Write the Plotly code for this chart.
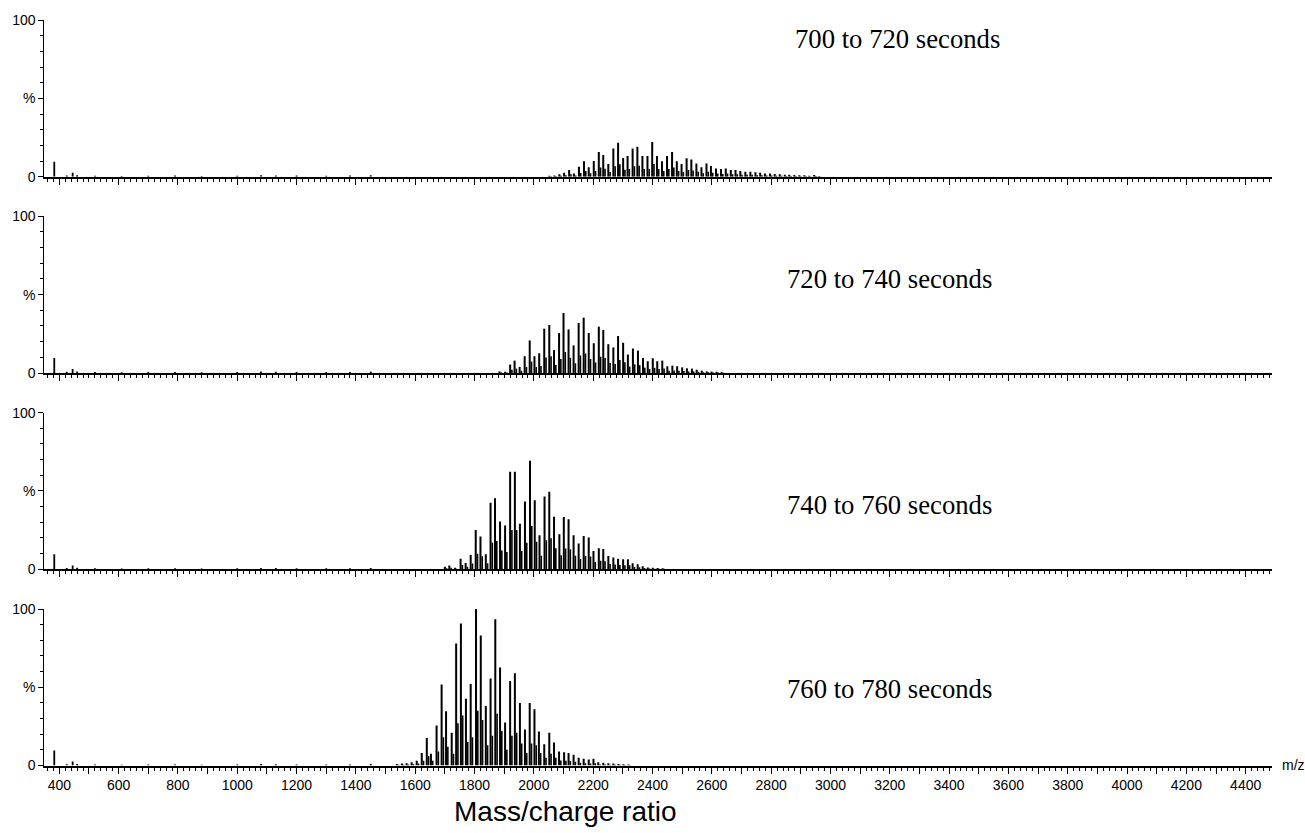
import plotly.graph_objects as go

# ---------------- data ----------------
PANEL_LABELS = ["700 to 720 seconds", "720 to 740 seconds",
                "740 to 760 seconds", "760 to 780 seconds"]

# low-mass peaks common to every spectrum
LOW_MZ = [383, 425, 445, 460, 520, 610, 700, 790, 880, 1000, 1080, 1130, 1200, 1300, 1380, 1450]
LOW_H = [9.6, 0.8, 2.5, 1.0, 0.6, 0.5, 0.6, 0.7, 0.5, 0.6, 0.9, 0.8, 0.7, 0.6, 0.7, 0.9]

MZ_P1 = [2052, 2069, 2086, 2102, 2119, 2135, 2152, 2169, 2185, 2202, 2219, 2234, 2251, 2268,
         2284, 2301, 2316, 2333, 2349, 2366, 2383, 2399, 2415, 2432, 2449, 2466, 2482, 2498,
         2515, 2531, 2548, 2565, 2582, 2597, 2614, 2631, 2647, 2664, 2680, 2696, 2713, 2730,
         2747, 2763, 2779, 2796, 2812, 2829, 2846, 2861, 2878, 2895, 2912, 2928, 2945, 2961]
H_P1 = [0.6, 0.8, 1.5, 2.6, 4.3, 2.1, 6.4, 9.8, 6, 10, 15.7, 13.8, 8.1, 18, 21.7, 11.9, 13.2,
        18, 19.1, 13.2, 13.2, 22.1, 13.2, 9.8, 13.2, 15.7, 9.8, 8.1, 11.7, 11, 8.5, 6, 8.5,
        6.8, 5.3, 4.9, 5.3, 4.3, 4.3, 3.6, 3.2, 3.2, 2.8, 2.6, 2.1, 2.1, 1.7, 1.5, 1.3, 1.3,
        1.1, 0.9, 0.9, 0.6, 1.1, 0.4]
SAT_P1 = [0.3, 0.4, 0.6, 1, 1.6, 0.8, 2.4, 3.6, 2.2, 3.7, 5.8, 5.1, 3, 6.6, 8, 4.4, 4.9, 6.6,
          7, 4.9, 4.9, 8.1, 4.9, 3.6, 4.9, 5.8, 3.6, 3, 4.3, 4, 3.1, 2.2, 3.1, 2.5, 2, 1.8, 2,
          1.6, 1.6, 1.3, 1.2, 1.2, 1, 1, 0.8, 0.8, 0.6, 0.6, 0.5, 0.5, 0.4, 0.3, 0.3, 0.2,
          0.4, 0.2]

MZ_P2 = [1884, 1903, 1920, 1935, 1952, 1969, 1986, 2002, 2018, 2035, 2052, 2068, 2085, 2100,
         2117, 2134, 2151, 2168, 2185, 2202, 2219, 2234, 2251, 2268, 2284, 2301, 2317, 2334,
         2351, 2368, 2384, 2401, 2416, 2433, 2450, 2467, 2483, 2500, 2516, 2533, 2549, 2566,
         2583, 2599, 2616, 2633]
H_P2 = [1, 0.8, 5.4, 7.9, 3.9, 10.7, 20.8, 10.7, 12.6, 28.3, 30.6, 14.6, 25.5, 38.3, 27.8,
        17.6, 31.9, 35.3, 25.5, 19, 29.6, 27.4, 18.4, 16.3, 23.6, 19.3, 11.8, 15.6, 14.3, 9.6,
        7.5, 9.4, 7.5, 7.9, 4.3, 4.7, 4.3, 3.6, 3, 2.8, 2.1, 1.5, 1, 0.9, 0.8, 0.6]
SAT_P2 = [0.4, 0.3, 2, 2.8, 1.4, 3.8, 7.3, 3.8, 4.4, 9.9, 10.7, 5.1, 8.9, 13.4, 9.7, 6.2, 11.2,
          12.4, 8.9, 6.7, 10.4, 9.6, 6.4, 5.7, 8.3, 6.8, 4.1, 5.5, 5, 3.4, 2.6, 3.3, 2.6, 2.8,
          1.5, 1.6, 1.5, 1.3, 1, 1, 0.7, 0.5, 0.4, 0.3, 0.3, 0.2]

MZ_P3 = [1700, 1715, 1734, 1753, 1770, 1787, 1804, 1820, 1838, 1854, 1869, 1886, 1903, 1920,
         1936, 1953, 1970, 1987, 2003, 2019, 2036, 2052, 2068, 2086, 2101, 2117, 2134, 2151,
         2168, 2185, 2201, 2219, 2234, 2251, 2268, 2284, 2301, 2317, 2333, 2350, 2367, 2384,
         2401, 2417, 2434]
H_P3 = [1.7, 2.5, 1, 6.8, 4, 9.2, 25, 21, 9.6, 42.4, 45.4, 30.5, 28, 62.3, 62.3, 29, 43.3,
        69.3, 44, 21.7, 46.5, 49.5, 33.5, 22.4, 33.3, 32, 21.7, 16.4, 21.3, 20.3, 11.7, 13.4,
        13, 8.5, 7.5, 6.8, 6.4, 6.4, 3.8, 3.2, 1.9, 1.2, 1, 0.8, 0.7]
SAT_P3 = [0.7, 1, 0.4, 2.7, 1.6, 3.7, 10, 8.4, 3.8, 17, 18, 12, 11, 25, 25, 11.6, 17, 27.7,
          17.6, 8.7, 18.6, 19.8, 13.4, 9, 13.3, 12.8, 8.7, 6.6, 8.5, 8.1, 4.7, 5.4, 5.2, 3.4,
          3, 2.7, 2.6, 2.6, 1.5, 1.3, 0.8, 0.5, 0.4, 0.3, 0.3]

MZ_P4 = [1538, 1555, 1571, 1588, 1605, 1622, 1639, 1653, 1672, 1689, 1704, 1723, 1738, 1754,
         1771, 1787, 1805, 1821, 1838, 1854, 1870, 1886, 1903, 1920, 1936, 1953, 1970, 1986,
         2002, 2017, 2035, 2052, 2068, 2085, 2102, 2117, 2134, 2151, 2168, 2185, 2201, 2217,
         2234, 2251, 2268, 2285, 2302, 2319]
H_P4 = [1, 1.2, 1.5, 2, 3, 8, 17.5, 7.5, 25.6, 51.7, 34.6, 21, 78, 90.8, 42.7, 52, 100, 83,
        38, 55.6, 93.4, 62.6, 27.4, 54, 59, 40, 23, 40, 36, 21.8, 13.5, 21, 14.7, 9, 8.5, 8,
        6.8, 5, 4.3, 3.8, 4.3, 2, 1.8, 1.5, 1.3, 1, 0.8, 0.7]
SAT_P4 = [0.4, 0.5, 0.6, 0.8, 1.2, 3, 6, 3, 9, 18, 12, 7.5, 27, 32, 15, 18, 35, 29, 13, 19,
          33, 22, 10, 19, 21, 14, 8, 14, 13, 8, 5, 7.5, 5, 3.2, 3, 2.8, 2.4, 1.8, 1.5, 1.3,
          1.5, 0.7, 0.6, 0.5, 0.5, 0.4, 0.3, 0.3]

X_TICKS = list(range(400, 4401, 100))
X_TICK_TEXT = [str(v) if v % 200 == 0 else "" for v in X_TICKS]
Y_TICKS = [0, 50, 100]
Y_TICK_TEXT = ["0", "%", "100"]

SPECTRA = [(MZ_P1, H_P1, SAT_P1), (MZ_P2, H_P2, SAT_P2),
           (MZ_P3, H_P3, SAT_P3), (MZ_P4, H_P4, SAT_P4)]

# ---------------- layout geometry (pixels) ----------------
W, H = 1305, 833
X_LEFT, X_RIGHT = 44.3, 1271.7
X_RANGE = [349.4, 4487.7]
PANEL_TOP = [20.0, 216.3, 412.6, 609.0]
PANEL_BASE = [176.7, 373.0, 569.3, 765.5]
SAT_OFFSET = 6


def px(x):
    return x / W


def py(y):
    return 1 - y / H


def sticks(mz, h):
    xs, ys = [], []
    for m, v in zip(mz, h):
        xs += [m, m, None]
        ys += [0, v, None]
    return xs, ys


fig = go.Figure()
TICKFONT = dict(family="Liberation Sans, Arial, sans-serif", size=14, color="black")

for i, (mz, hh, sat) in enumerate(SPECTRA):
    k = "" if i == 0 else str(i + 1)
    xa, ya = "x" + k, "y" + k
    # low-mass peaks
    xs, ys = sticks(LOW_MZ, LOW_H)
    fig.add_trace(go.Scatter(x=xs, y=ys, mode="lines", xaxis=xa, yaxis=ya,
                             line=dict(color="black", width=1.8), hoverinfo="skip",
                             showlegend=False))
    # satellite peaks
    xs, ys = sticks([m + SAT_OFFSET for m in mz], sat)
    fig.add_trace(go.Scatter(x=xs, y=ys, mode="lines", xaxis=xa, yaxis=ya,
                             line=dict(color="black", width=1.6), hoverinfo="skip",
                             showlegend=False))
    # main envelope peaks
    xs, ys = sticks(mz, hh)
    fig.add_trace(go.Scatter(x=xs, y=ys, mode="lines", xaxis=xa, yaxis=ya,
                             line=dict(color="black", width=2.0), hoverinfo="skip",
                             showlegend=False))

    bottom = i == 3
    fig.update_layout(**{
        "xaxis" + k: dict(
            domain=[px(X_LEFT), px(X_RIGHT)], range=X_RANGE, anchor=ya,
            automargin=False,
            showline=True, linewidth=2, linecolor="black", mirror=False,
            showgrid=False, zeroline=False,
            ticks="outside", ticklen=6, tickwidth=1, tickcolor="black",
            tickvals=X_TICKS, ticktext=X_TICK_TEXT, showticklabels=bottom,
            tickfont=TICKFONT,
            minor=dict(dtick=20, tick0=0, ticks="outside", ticklen=3, tickwidth=1,
                       tickcolor="black", showgrid=False),
        ),
        "yaxis" + k: dict(
            domain=[py(PANEL_BASE[i]), py(PANEL_TOP[i])], range=[0, 100], anchor=xa,
            automargin=False,
            showline=True, linewidth=1, linecolor="black",
            showgrid=False, zeroline=False,
            ticks="outside", ticklen=5, tickwidth=1, tickcolor="black",
            tickvals=Y_TICKS, ticktext=Y_TICK_TEXT, tickfont=TICKFONT,
            minor=dict(dtick=10, tick0=0, ticks="outside", ticklen=3, tickwidth=1,
                       tickcolor="black", showgrid=False),
        ),
    })

# panel captions
CAPTION_POS = [(793, 39), (785, 279), (785, 505), (785, 689)]
SERIF = dict(family="Liberation Serif, Times New Roman, serif", size=26.7, color="black")
annotations = []
for (cx, cy), label in zip(CAPTION_POS, PANEL_LABELS):
    annotations.append(dict(text=label, x=px(cx), y=py(cy), xref="paper", yref="paper",
                            xanchor="left", yanchor="middle", showarrow=False, font=SERIF))
annotations.append(dict(text="m/z", x=px(1280), y=py(765), xref="paper", yref="paper",
                        xanchor="left", yanchor="middle", showarrow=False,
                        font=dict(family="Liberation Sans, Arial, sans-serif", size=14,
                                  color="black")))
annotations.append(dict(text="Mass/charge ratio", x=px(565), y=py(811), xref="paper",
                        yref="paper", xanchor="center", yanchor="middle", showarrow=False,
                        font=dict(family="Liberation Sans, Arial, sans-serif", size=28,
                                  color="black")))

fig.update_layout(width=W, height=H, autosize=False,
                  margin=dict(l=0, r=0, t=0, b=0, autoexpand=False),
                  paper_bgcolor="white", plot_bgcolor="white",
                  annotations=annotations, showlegend=False)

fig.write_html("out.html")
